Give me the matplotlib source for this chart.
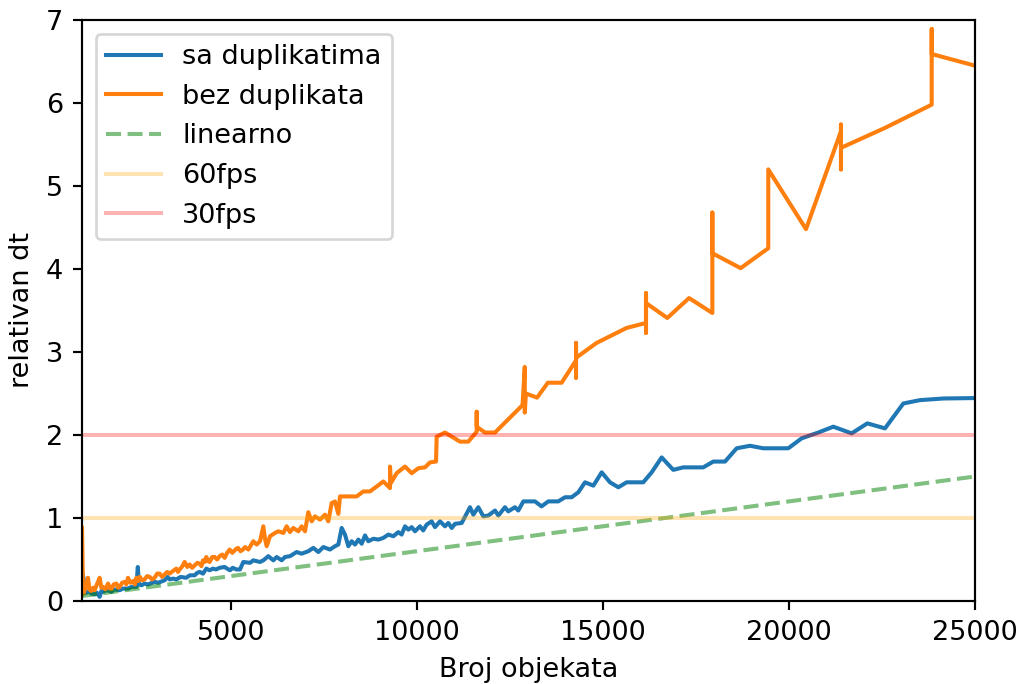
import matplotlib.pyplot as plt

# broj objekata / relativan dt - sa duplikatima
x_sa = [1000, 1040, 1072, 1120, 1200, 1250, 1340, 1400, 1475, 1520, 1564, 1650, 1750, 1788, 1870, 2012, 2100,
        2236, 2330, 2460, 2500, 2530, 2600, 2684, 2770, 2953, 3050, 3222, 3300, 3356, 3450, 3535, 3650, 3800,
        3900, 4028, 4100, 4162, 4252, 4342, 4431, 4520, 4600, 4700, 4834, 4900, 4978, 5050, 5150, 5246, 5336,
        5515, 5605, 5784, 5874, 6008, 6142, 6232, 6366, 6456, 6590, 6769, 6904, 7083, 7217, 7352, 7486, 7665,
        7799, 7889, 7979, 8068, 8158, 8248, 8337, 8427, 8517, 8606, 8696, 8830, 8965, 9099, 9233, 9368, 9501,
        9590, 9681, 9770, 9860, 9950, 10084, 10170, 10263, 10397, 10487, 10622, 10755, 10845, 10936, 11025,
        11205, 11428, 11517, 11651, 11786, 11920, 12100, 12190, 12368, 12457, 12637, 12726, 12861, 13175, 13350,
        13532, 13800, 13981, 14160, 14339, 14519, 14743, 14967, 15190, 15415, 15637, 16085, 16310, 16579, 16891,
        17160, 17697, 17967, 18281, 18595, 18953, 19310, 19982, 20342, 20789, 21192, 21686, 22106, 22581, 23074,
        23521, 24148, 25000]
y_sa = [0.35, 0.28, 0.13, 0.10, 0.12, 0.09, 0.08, 0.10, 0.05, 0.12, 0.11, 0.13, 0.12, 0.11, 0.14, 0.13, 0.15,
        0.15, 0.17, 0.17, 0.41, 0.20, 0.19, 0.21, 0.20, 0.23, 0.22, 0.25, 0.29, 0.26, 0.27, 0.26, 0.29, 0.28,
        0.31, 0.31, 0.34, 0.35, 0.33, 0.39, 0.37, 0.39, 0.38, 0.40, 0.41, 0.39, 0.37, 0.40, 0.38, 0.38, 0.47,
        0.46, 0.49, 0.47, 0.49, 0.54, 0.49, 0.53, 0.49, 0.53, 0.54, 0.59, 0.57, 0.60, 0.64, 0.59, 0.65, 0.62,
        0.66, 0.68, 0.88, 0.80, 0.66, 0.72, 0.68, 0.74, 0.69, 0.79, 0.72, 0.75, 0.74, 0.76, 0.80, 0.78, 0.83,
        0.80, 0.90, 0.86, 0.89, 0.84, 0.90, 0.85, 0.92, 0.96, 0.89, 0.96, 0.90, 0.94, 0.88, 0.93,
        0.94, 1.13, 1.04, 1.13, 1.02, 1.03, 1.09, 1.03, 1.13, 1.08, 1.13, 1.09, 1.20, 1.20, 1.14,
        1.20, 1.20, 1.25, 1.25, 1.31, 1.43, 1.39, 1.55, 1.43, 1.37, 1.43, 1.43, 1.55, 1.73, 1.58,
        1.61, 1.61, 1.68, 1.68, 1.84, 1.87, 1.84, 1.84, 1.96, 2.03, 2.10, 2.02, 2.14, 2.08, 2.38,
        2.42, 2.44, 2.445]

# bez duplikata
x_bez = [1000, 1030, 1072, 1120, 1161, 1200, 1250, 1300, 1340, 1400, 1475, 1520, 1564, 1630, 1699, 1750, 1788,
         1850, 1923, 1970, 2012, 2080, 2147, 2190, 2236, 2300, 2371, 2420, 2460, 2510, 2550, 2620, 2684, 2750,
         2819, 2880, 2953, 3020, 3087, 3150, 3222, 3290, 3356, 3440, 3535, 3580, 3625, 3700, 3759, 3830, 3894,
         3960, 4028, 4100, 4162, 4210, 4252, 4300, 4342, 4390, 4431, 4500, 4566, 4630, 4700, 4770, 4834, 4900,
         4969, 5040, 5103, 5150, 5193, 5260, 5327, 5381, 5471, 5604, 5694, 5784, 5873, 5918, 5963, 6053, 6187,
         6276, 6411, 6500, 6590, 6679, 6814, 6904, 6993, 7082, 7172, 7262, 7396, 7531, 7620, 7710, 7799, 7889,
         7934, 8382, 8561, 8740, 8920, 9099, 9233, 9278, 9278, 9300, 9457, 9681, 9861, 10040, 10218, 10352,
         10514, 10532, 10755, 11159, 11382, 11608, 11608, 11608, 11831, 12100, 12840, 12900, 12900, 12930,
         13230, 13520, 13892, 14277, 14277, 14277, 14277, 14832, 15637, 16158, 16158, 16158, 16158, 16731,
         17315, 17941, 17941, 17941, 18702, 19444, 19444, 20458, 21398, 21398, 21398, 21398, 22581, 23836,
         23836, 23836, 25000]
y_bez = [0.88, 0.08, 0.13, 0.20, 0.28, 0.14, 0.12, 0.16, 0.13, 0.20, 0.28, 0.16, 0.17, 0.14, 0.21, 0.15, 0.14,
         0.20, 0.21, 0.16, 0.17, 0.22, 0.23, 0.20, 0.28, 0.22, 0.24, 0.20, 0.28, 0.24, 0.29, 0.25, 0.26, 0.30,
         0.29, 0.26, 0.28, 0.33, 0.33, 0.29, 0.32, 0.35, 0.33, 0.36, 0.39, 0.35, 0.38, 0.42, 0.47, 0.41, 0.44,
         0.40, 0.43, 0.46, 0.45, 0.42, 0.49, 0.47, 0.53, 0.48, 0.47, 0.53, 0.53, 0.50, 0.54, 0.56, 0.52, 0.58,
         0.62, 0.58, 0.61, 0.63, 0.64, 0.60, 0.62, 0.65, 0.62, 0.72, 0.68, 0.72, 0.90, 0.75, 0.66, 0.78, 0.82,
         0.84, 0.82, 0.90, 0.83, 0.88, 0.84, 0.90, 0.84, 1.07, 0.96, 1.02, 0.98, 1.04, 0.96, 1.18, 1.20, 1.05,
         1.26, 1.26, 1.32, 1.32, 1.38, 1.44, 1.38, 1.36, 1.62, 1.42, 1.54, 1.62, 1.54, 1.60, 1.61, 1.67,
         1.68, 1.98, 2.03, 1.92, 1.92, 2.04, 2.28, 2.10, 2.03, 2.03, 2.36, 2.82, 2.27, 2.50,
         2.45, 2.63, 2.63, 2.90, 3.11, 2.69, 2.93, 3.11, 3.29, 3.35, 3.71, 3.23, 3.59, 3.41,
         3.65, 3.47, 4.68, 4.19, 4.01, 4.25, 5.20, 4.48, 5.66, 5.74, 5.20, 5.46, 5.70, 5.98,
         6.89, 6.59, 6.45]

x_lin = [1000, 25000]
y_lin = [0.06, 1.5]

dpi = 195
fig = plt.figure(figsize=(1019 / dpi, 684 / dpi), dpi=dpi)
ax = fig.add_axes([82 / 1019, 83 / 684, 893 / 1019, 581 / 684])
ax.plot(x_sa, y_sa, label="sa duplikatima")
ax.plot(x_bez, y_bez, label="bez duplikata")
ax.plot(x_lin, y_lin, "g--", alpha=0.5, label="linearno")
ax.axhline(1, color="orange", alpha=0.3, label="60fps")
ax.axhline(2, color="red", alpha=0.3, label="30fps")
ax.axis([1000, 25000, 0, 7])
ax.set_xlabel("Broj objekata")
ax.set_ylabel("relativan dt")
ax.legend(loc="upper left")
fig.savefig("out.png", dpi=dpi)
